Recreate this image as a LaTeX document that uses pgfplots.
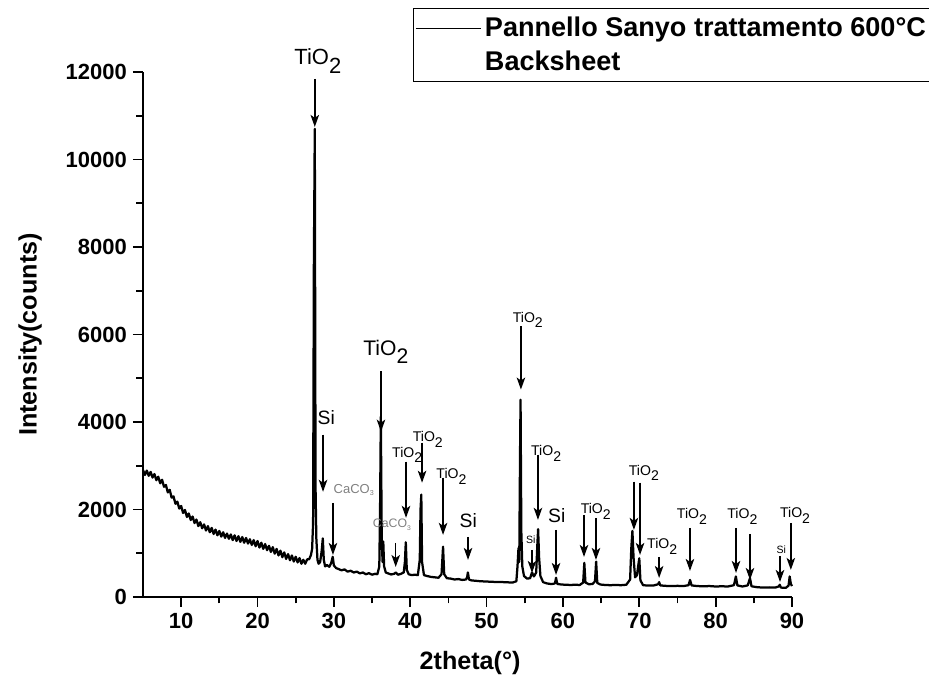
\documentclass[border=0pt]{standalone}
\usepackage{pgfplots}
\pgfplotsset{compat=1.18}
\usepackage{graphicx}
\usepackage{fontspec}
\setmainfont{Liberation Sans}
\usetikzlibrary{arrows.meta}

% labels as Origin draws them
\newcommand{\tio}{TiO\raisebox{-0.75ex}{2}}
\newcommand{\caco}{CaCO\raisebox{-0.35ex}{\scalebox{0.55}{3}}}
\newcommand{\fs}[1]{\fontsize{#1}{#1}\selectfont}

\pgfplotstableread{
x y
5.00 2900
5.25 2790
5.50 2890
5.75 2770
6.00 2860
6.25 2730
6.50 2810
6.75 2670
7.00 2750
7.25 2600
7.50 2680
7.75 2520
8.00 2560
8.25 2390
8.50 2450
8.75 2270
9.00 2300
9.25 2130
9.50 2180
9.75 2020
10.00 2080
10.25 1920
10.50 1990
10.75 1830
11.00 1910
11.25 1760
11.50 1840
11.75 1690
12.00 1770
12.25 1620
12.50 1710
12.75 1570
13.00 1660
13.25 1520
13.50 1620
13.75 1480
14.00 1580
14.25 1440
14.50 1540
14.75 1410
15.00 1510
15.25 1380
15.50 1480
15.75 1350
16.00 1450
16.25 1330
16.50 1430
16.75 1300
17.00 1410
17.25 1280
17.50 1390
17.75 1260
18.00 1370
18.25 1240
18.50 1350
18.75 1220
19.00 1320
19.25 1190
19.50 1300
19.75 1160
20.00 1280
20.25 1130
20.50 1240
20.75 1100
21.00 1210
21.25 1070
21.50 1170
21.75 1030
22.00 1140
22.25 990
22.50 1100
22.75 950
23.00 1060
23.25 910
23.50 1020
23.75 870
24.00 980
24.25 840
24.50 950
24.75 810
25.00 920
25.25 790
25.50 890
25.75 760
26.00 850
26.25 760
26.50 860
26.75 860
27.00 960
27.15 1100
27.28 1700
27.38 7600
27.50 10700
27.60 2500
27.70 1350
27.85 850
28.00 760
28.20 800
28.40 1050
28.55 1340
28.68 850
28.85 700
29.10 730
29.40 690
29.65 780
29.85 920
30.00 720
30.30 660
30.60 640
31.00 610
31.40 630
31.80 580
32.20 600
32.60 560
33.00 580
33.40 540
33.80 560
34.20 520
34.60 545
35.00 510
35.40 530
35.70 520
35.95 700
36.05 2000
36.15 4120
36.27 1300
36.38 800
36.47 1270
36.58 700
36.80 560
37.10 540
37.50 515
37.90 530
38.10 560
38.40 510
38.80 530
39.15 560
39.30 800
39.42 1250
39.55 620
39.80 520
40.20 500
40.60 510
41.00 500
41.25 850
41.35 2000
41.45 2340
41.55 800
41.80 500
42.20 480
42.70 460
43.20 450
43.70 440
44.10 520
44.30 1150
44.45 520
44.80 430
45.30 420
45.80 400
46.30 410
46.80 390
47.30 400
47.45 450
47.55 560
47.70 400
48.00 380
48.60 370
49.20 360
49.80 355
50.40 350
51.00 345
51.60 340
52.20 340
52.80 335
53.40 330
53.90 360
54.05 700
54.18 1120
54.28 800
54.38 3200
54.45 4510
54.55 1500
54.68 700
54.90 480
55.30 420
55.70 430
55.95 560
56.20 470
56.50 560
56.65 1200
56.75 1550
56.88 900
57.05 480
57.40 340
57.90 310
58.50 295
58.95 310
59.10 440
59.25 300
59.80 285
60.40 280
61.00 275
61.60 280
62.20 275
62.65 330
62.80 780
62.95 330
63.40 290
63.90 300
64.20 360
64.35 810
64.50 320
64.90 285
65.50 275
66.20 270
66.90 275
67.60 270
68.30 280
68.80 400
68.95 1100
69.10 1510
69.25 900
69.45 450
69.70 500
69.85 700
70.00 885
70.15 380
70.50 270
71.20 260
71.90 265
72.45 290
72.60 340
72.75 265
73.40 255
74.20 250
75.00 255
75.80 250
76.45 270
76.65 390
76.85 265
77.60 250
78.40 245
79.20 250
80.00 240
80.80 245
81.60 240
82.40 270
82.65 470
82.85 265
83.50 240
84.20 265
84.50 430
84.70 245
85.40 225
86.20 215
87.00 220
87.80 215
88.25 240
88.40 280
88.55 215
89.20 210
89.55 260
89.70 470
89.85 300
90.00 250
}\xrd

\begin{document}
\begin{tikzpicture}
\begin{axis}[name=ax, at={(0,0)}, anchor=south west, scale only axis,
  width=129.8mm, height=105mm,
  xmin=5, xmax=90, ymin=0, ymax=12000, clip=false,
  axis x line*=bottom, axis y line*=left,
  axis line style={line width=0.35mm, -},
  every tick/.style={black, line width=0.35mm},
  tick align=outside, major tick length=2mm, minor tick length=1.3mm,
  xtick={10,20,...,90}, minor x tick num=1,
  ytick={0,2000,...,12000}, minor y tick num=1,
  scaled y ticks=false,
  /pgf/number format/1000 sep={}, /pgf/number format/assume math mode=true,
  tick label style={font=\bfseries\fs{12.5}},
  xlabel={2theta(°)}, ylabel={Intensity(counts)},
  label style={font=\bfseries\fs{14.3}},
  xlabel style={at={(axis description cs:0.504,-0.126)}, anchor=center},
  ylabel style={at={(axis description cs:-0.174,0.5)}, anchor=center},
  legend style={at={(axis description cs:0.416,1.122)}, anchor=north west,
    draw=black, line width=0.3mm, inner xsep=0.3mm, inner ysep=1mm,
    row sep=0.9mm,
    font=\bfseries\fs{15.4}},
  legend cell align=left,
  legend image code/.code={\draw[black, line width=0.25mm] (0mm,0mm) -- (13mm,0mm);},
]
\addplot[black, line width=0.45mm, line join=round] table[x=x, y=y] {\xrd};
\addlegendentry{Pannello Sanyo trattamento 600°C}
\addlegendimage{empty legend}
\addlegendentry{Backsheet}

% arrows
\begin{scope}[-{Stealth[length=2.4mm, width=1.7mm, inset=0.6mm]}, line width=0.3mm, black]
\draw (axis cs:27.5,11845) -- (axis cs:27.5,10745);
\draw (axis cs:28.58,3711) -- (axis cs:28.58,2405);
\draw (axis cs:29.88,2153) -- (axis cs:29.88,962);
\draw (axis cs:36.17,5155) -- (axis cs:36.17,3780);
\draw (axis cs:38.1,1237) -- (axis cs:38.1,687);
\draw (axis cs:39.45,3093) -- (axis cs:39.45,1810);
\draw (axis cs:41.55,3528) -- (axis cs:41.55,2612);
\draw (axis cs:44.3,2726) -- (axis cs:44.3,1420);
\draw (axis cs:47.57,1375) -- (axis cs:47.57,848);
\draw (axis cs:54.5,6186) -- (axis cs:54.5,4742);
\draw (axis cs:55.95,1077) -- (axis cs:55.95,550);
\draw (axis cs:56.73,3253) -- (axis cs:56.73,1764);
\draw (axis cs:59.1,1535) -- (axis cs:59.1,504);
\draw (axis cs:62.76,1879) -- (axis cs:62.76,916);
\draw (axis cs:64.33,1810) -- (axis cs:64.33,848);
\draw (axis cs:69.3,2635) -- (axis cs:69.3,1535);
\draw (axis cs:70.1,2612) -- (axis cs:70.1,962);
\draw (axis cs:72.6,916) -- (axis cs:72.6,435);
\draw (axis cs:76.64,1581) -- (axis cs:76.64,596);
\draw (axis cs:82.67,1581) -- (axis cs:82.67,550);
\draw (axis cs:84.5,1443) -- (axis cs:84.5,390);
\draw (axis cs:88.43,939) -- (axis cs:88.43,344);
\draw (axis cs:89.85,1695) -- (axis cs:89.85,619);
\end{scope}

% labels
\node[font=\fs{12.5}] at (axis cs:27.9,12250) {\tio};
\node[font=\fs{11}] at (axis cs:29.0,4101) {Si};
\node[font=\fs{7.4}, text=gray] at (axis cs:32.6,2451) {\caco};
\node[font=\fs{12}] at (axis cs:36.8,5600) {\tio};
\node[font=\fs{7}, text=gray] at (axis cs:37.6,1650) {\caco};
\node[font=\fs{8}] at (axis cs:39.6,3250) {\tio};
\node[font=\fs{8}] at (axis cs:42.3,3600) {\tio};
\node[font=\fs{8}] at (axis cs:45.4,2750) {\tio};
\node[font=\fs{11}] at (axis cs:47.6,1740) {Si};
\node[font=\fs{8}] at (axis cs:55.4,6330) {\tio};
\node[font=\fs{6}] at (axis cs:55.8,1306) {Si};
\node[font=\fs{8}] at (axis cs:57.8,3280) {\tio};
\node[font=\fs{11}] at (axis cs:59.2,1850) {Si};
\node[font=\fs{8}] at (axis cs:64.3,1950) {\tio};
\node[font=\fs{8}] at (axis cs:70.6,2840) {\tio};
\node[font=\fs{8}] at (axis cs:73.0,1150) {\tio};
\node[font=\fs{8}] at (axis cs:76.9,1840) {\tio};
\node[font=\fs{8}] at (axis cs:83.5,1840) {\tio};
\node[font=\fs{6}] at (axis cs:88.6,1077) {Si};
\node[font=\fs{8}] at (axis cs:90.4,1860) {\tio};
\end{axis}
\pgfresetboundingbox
\path (-28.6mm,-16.8mm) rectangle (157.2mm,119.4mm);
\end{tikzpicture}
\end{document}
